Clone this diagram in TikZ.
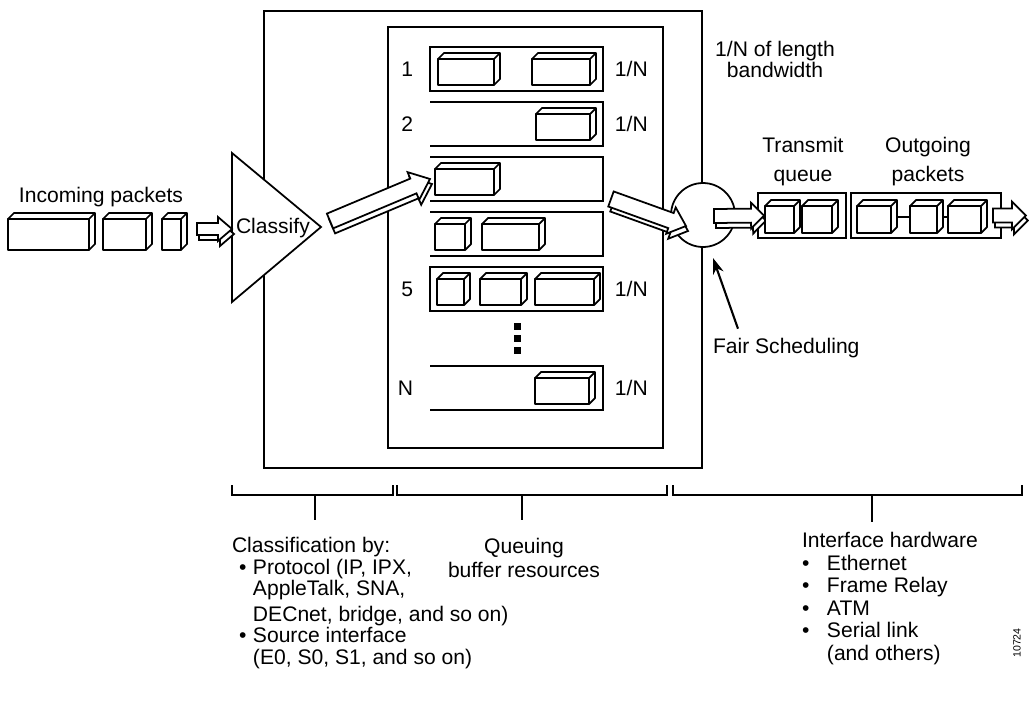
\documentclass[tikz,border=0pt]{standalone}
\usepackage{fontspec}
\setmainfont{Liberation Sans}
\usetikzlibrary{calc,positioning,arrows.meta}

% a packet as a small 3D block: x, y, width, height (px)
\newcommand{\pkt}[4]{%
  \draw[pktline] (#1,#2+6) rectangle (#1+#3-6,#2+#4);
  \draw[pktline] (#1,#2+6) -- (#1+6,#2) -- (#1+#3,#2) -- (#1+#3,#2+#4-6)
    -- (#1+#3-6,#2+#4) -- (#1+#3-6,#2+6) -- cycle;
  \draw[pktline] (#1+#3-6,#2+6) -- (#1+#3,#2);}

% hollow block arrow with shadow: from, to, half shaft, half head, head length (px)
\newcommand{\blockarrow}[5]{%
  \path let \p1=(#1), \p2=(#2) in \pgfextra{%
    \pgfmathsetmacro{\barang}{atan2(\y2-\y1,\x2-\x1)}%
    \pgfmathsetmacro{\barlen}{veclen(\x2-\x1,\y2-\y1)/0.569055}%
    \xdef\barang{\barang}\xdef\barlen{\barlen}\xdef\barx{\x1}\xdef\bary{\y1}};
  \foreach \sx/\sy in {2/-5,0/0}
    \draw[harrow, xshift=\sx*0.02cm, yshift=\sy*0.02cm, shift={(\barx,\bary)}, rotate=\barang]
      (0,-#3) -- (\barlen-#5,-#3) -- (\barlen-#5,-#4) -- (\barlen,0)
      -- (\barlen-#5,#4) -- (\barlen-#5,#3) -- (0,#3) -- cycle;}

\newcommand{\bul}[2]{\makebox[#1][l]{\hspace*{#2}\textbullet}}

\begin{document}
\begin{tikzpicture}[x=0.02cm, y=-0.02cm, >=Stealth, line width=1pt,
    every node/.style={font=\fontsize{12}{13}\selectfont, inner sep=0pt, outer sep=0pt},
    pktline/.style={draw, fill=white, line join=round},
    harrow/.style={draw, fill=white},
    queue/.style={minimum width=3.46cm, minimum height=0.88cm}]
  \useasboundingbox (0,0) rectangle (1029,707);

  % frames
  \node[draw, minimum width=8.76cm, minimum height=9.14cm] (wfq) at (483,239.5) {};
  \node[draw, minimum width=5.5cm, minimum height=8.42cm] (bufs) at (525.5,237.5) {};

  % queues
  \node[queue, draw] (row1) at (516.5,69) {};
  \node[queue, below=0.22cm of row1] (row2) {};
  \node[queue, below=0.22cm of row2] (row3) {};
  \node[queue, below=0.22cm of row3] (row4) {};
  \node[queue, draw, below=0.22cm of row4] (row5) {};
  \node[queue, below=1.1cm of row5] (rowN) {};
  \foreach \r in {row2,row3,row4,rowN}
    \draw (\r.north west) -| (\r.south east) -- (\r.south west);
  \foreach \r/\n in {row1/1,row2/2,row5/5,rowN/N}{
    \node[anchor=east] (num-\n) at ([xshift=-0.34cm]\r.west) {\n};
    \node[anchor=west] (share-\n) at ([xshift=0.24cm]\r.east) {1/N};
  }
  \pkt{438}{53}{62}{32} \pkt{532}{53}{64}{32}
  \pkt{536}{108}{60}{32}
  \pkt{435}{163}{65}{32}
  \pkt{435}{218}{36}{32} \pkt{482}{218}{63}{32}
  \pkt{437}{273}{33}{32} \pkt{480}{273}{47}{32} \pkt{535}{273}{65}{32}
  \pkt{535}{372}{60}{32}
  \foreach \d in {323,335,347} \fill (514,\d) rectangle (521,\d+7);

  % classifier
  \draw[fill=white] (232,153) coordinate (tritop) -- (321,227) coordinate (apex)
    -- (232,302) coordinate (tribot) -- cycle;
  \node[anchor=base west] (classify) at (236,233) {Classify};

  % scheduler, transmit queue, outgoing packets
  \node[circle, draw, fill=white, minimum size=1.28cm] (sched) at (703,215) {};
  \node[draw, minimum width=1.76cm, minimum height=0.9cm] (txq) at (802,215.5) {};
  \node[draw, minimum width=3.0cm, minimum height=0.9cm, right=0.1cm of txq] (outq) {};

  % incoming packets
  \pkt{8}{213}{87}{37} \pkt{103}{213}{49}{37} \pkt{162}{213}{25}{37}

  % block arrows
  \coordinate (inarr) at (197,229);
  \blockarrow{inarr}{tritop|-inarr}{6}{12}{14}
  \blockarrow{$(apex)+(9,-6)$}{row3.west}{8}{15}{18}
  \blockarrow{$(row3.east)+(8,20)$}{$(sched.center)+(-17,11)$}{8}{14}{16}
  \blockarrow{$(sched.center)+(11,1)$}{$(txq.west)+(6,0)$}{7}{13}{13}
  \blockarrow{$(outq.east)+(-8,0)$}{$(outq.east)+(25,0)$}{7}{14}{14}

  \pkt{765}{200}{35}{33} \pkt{802}{200}{36}{33}
  \pkt{857}{200}{40}{33} \pkt{910}{200}{33}{33} \pkt{948}{200}{39}{33}
  \draw (897,217) -- (910,217) (943,217) -- (948,217);

  % labels
  \node[anchor=base] (inlbl) at (101,202) {Incoming packets};
  \node[anchor=base, align=center, font=\fontsize{12}{11.4}\selectfont] (bwlbl) at (775,77) {1/N of length\\bandwidth};
  \node[anchor=base, align=center, font=\fontsize{12}{16}\selectfont] (txlbl) at (803,181) {Transmit\\queue};
  \node[anchor=base, align=center, font=\fontsize{12}{16}\selectfont] (outlbl) at (928,181) {Outgoing\\packets};
  \node[anchor=base west] (fair) at (713,353) {Fair Scheduling};
  \coordinate (fairtip) at (713,258);
  \draw[line width=1.2pt, -{Stealth[length=0.32cm, width=0.22cm]}] ($(fair.north west)+(25,-9)$) -- (fairtip);

  % brackets
  \draw (232,485) |- (393,495) -- (393,485);
  \draw (397,485) |- (667,495) -- (667,485);
  \draw (673,485) |- (1022,495) -- (1022,485);
  \draw (315,495) -- (315,520) (522,495) -- (522,520) (872,495) -- (872,522);

  % notes
  \node[anchor=base west, align=left, font=\fontsize{12}{12.2}\selectfont] (clsnote) at (232,664)
    {Classification by:\\
     \bul{0.42cm}{4pt}Protocol (IP, IPX,\\
     \hspace*{0.42cm}AppleTalk, SNA,\\[0.08cm]
     \hspace*{0.42cm}DECnet, bridge, and so on)\\
     \bul{0.42cm}{4pt}Source interface\\
     \hspace*{0.42cm}(E0, S0, S1, and so on)};
  \node[anchor=base, align=center, font=\fontsize{12}{13.6}\selectfont] (qnote) at (524,577) {Queuing\\buffer resources};
  \node[anchor=base west, align=left, font=\fontsize{12}{12.8}\selectfont] (hwnote) at (802,660)
    {Interface hardware\\
     \bul{0.5cm}{0pt}Ethernet\\
     \bul{0.5cm}{0pt}Frame Relay\\
     \bul{0.5cm}{0pt}ATM\\
     \bul{0.5cm}{0pt}Serial link\\
     \hspace*{0.5cm}(and others)};
  \node[rotate=90, font=\fontsize{6}{7}\selectfont] (fignum) at (1017,643) {10724};
\end{tikzpicture}
\end{document}
